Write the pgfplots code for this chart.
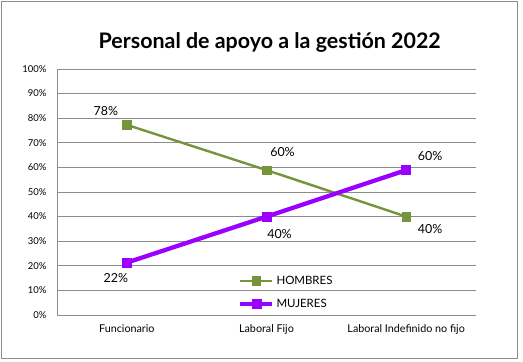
\documentclass[border=0pt]{standalone}
\usepackage{pgfplots}
\pgfplotsset{compat=1.18}
\usepackage{fontspec}
\setmainfont{Lato}
\definecolor{hgreen}{HTML}{77933C}
\definecolor{mpurple}{HTML}{9B00FF}
\definecolor{gridgray}{HTML}{8C8C8C}
\begin{document}
\begin{tikzpicture}
\path[use as bounding box] (-57bp,-47bp) rectangle (466bp,315bp);
\draw[gridgray, line width=0.9bp, fill=white] (-56bp,-43bp) rectangle (460bp,314bp);
\begin{axis}[
  at={(0,0)}, anchor=south west,
  width=419bp, height=246bp, scale only axis,
  xmin=-0.5, xmax=2.5, ymin=0, ymax=100,
  xtick={0,1,2},
  xticklabels={Funcionario, Laboral Fijo, Laboral Indefinido no fijo},
  ytick={0,10,...,100},
  /pgf/number format/assume math mode=true,
  yticklabel={\pgfmathprintnumber{\tick}\%},
  ymajorgrids, grid style={gridgray, line width=0.7bp},
  axis x line*=bottom, axis y line*=left,
  axis line style={gridgray, line width=0.7bp, -},
  major tick length=0pt,
  tick label style={font=\fontsize{9.5}{11}\selectfont},
  yticklabel style={xshift=-7bp},
  xticklabel style={yshift=-6bp, font=\fontsize{10.8}{12}\selectfont},
  clip=false,
  legend style={at={(0.432,0.168)}, anchor=north west, draw=none, fill=none,
    font=\fontsize{11.5}{13}\selectfont, cells={anchor=west}, row sep=9.5bp,
    inner sep=0pt},
  legend image code/.code={\draw[mark repeat=2,mark phase=2,#1] plot coordinates {(0bp,0bp) (16bp,0bp) (32bp,0bp)};},
]
\addplot[hgreen, line width=2.4bp, mark=square*, mark size=4.3bp, mark options={solid, line width=0.5bp}] coordinates {(0,77.3) (1,58.9) (2,40.0)};
\addlegendentry{HOMBRES}
\addplot[mpurple, line width=4.3bp, mark=square*, mark size=4.5bp, mark options={solid, line width=0.5bp}] coordinates {(0,21.3) (1,40.0) (2,58.9)};
\addlegendentry{MUJERES}
\begin{scope}[every node/.style={font=\fontsize{12.5}{14}\selectfont}]
\node at (axis cs:0,77.3) [xshift=-21bp, yshift=14bp] {78\%};
\node at (axis cs:1,58.9) [xshift=16bp, yshift=18bp] {60\%};
\node at (axis cs:2,40.0) [xshift=24bp, yshift=-12bp] {40\%};
\node at (axis cs:0,21.3) [xshift=-11bp, yshift=-15bp] {22\%};
\node at (axis cs:1,40.0) [xshift=13bp, yshift=-17bp] {40\%};
\node at (axis cs:2,58.9) [xshift=24bp, yshift=14bp] {60\%};
\end{scope}
\end{axis}
\node[font=\bfseries\fontsize{21.5}{25}\selectfont] at (212.7bp,273bp) {Personal de apoyo a la gestión 2022};
\end{tikzpicture}
\end{document}
